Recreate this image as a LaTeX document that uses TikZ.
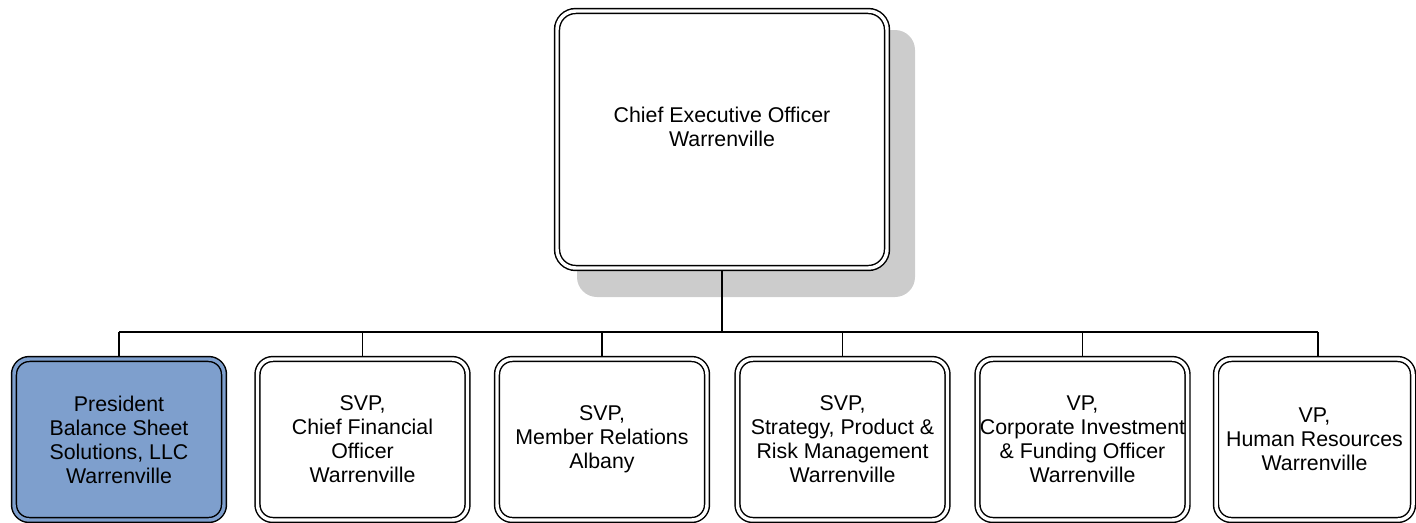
\documentclass[tikz,border=0pt]{standalone}
\usepackage{fontspec}
\setmainfont{Liberation Sans}
\usetikzlibrary{backgrounds}
\definecolor{bluefill}{RGB}{126,159,205}
\definecolor{shadowgray}{RGB}{204,204,204}
\begin{document}
\begin{tikzpicture}[x=0.75pt,y=-0.75pt,
  orgbox/.style={draw=black, line width=1.1pt, double=white, double distance=2.6pt,
    rounded corners=11.5pt, fill=white, minimum width=157.5pt, minimum height=120.75pt,
    inner sep=0pt, outer sep=0pt, align=center, font=\fontsize{16}{18}\selectfont},
  boxtext/.style={align=center, inner sep=0pt, font=\fontsize{16}{18}\selectfont},
  conn/.style={draw=black, line width=1.2pt}]
\useasboundingbox (0,0) rectangle (1416,522);
% top box
\node[orgbox, minimum width=247.5pt, minimum height=192.75pt, rounded corners=14pt] (ceo) at (722,139.5) {};
\node[boxtext] (ceotext) at (722,127) {Chief Executive Officer\\Warrenville};
% bottom boxes
\node[orgbox, double=bluefill, fill=bluefill] (b1) at (119,439.5) {President\\Balance Sheet\\Solutions, LLC\\Warrenville};
\node[orgbox] (b2) at (362.5,439.5) {SVP,\\Chief Financial\\Officer\\Warrenville};
\node[orgbox] (b3) at (602,439.5) {SVP,\\Member Relations\\Albany};
\node[orgbox] (b4) at (842.5,439.5) {SVP,\\Strategy, Product \&\\Risk Management\\Warrenville};
\node[orgbox] (b5) at (1082.5,439.5) {VP,\\Corporate Investment\\\& Funding Officer\\Warrenville};
\node[orgbox, minimum width=147.75pt] (b6) at (1314.5,439.5) {VP,\\Human Resources\\Warrenville};
\coordinate (bus) at (722,332);
\coordinate (d6) at (1318,332);
\begin{pgfonlayer}{background}
  \fill[shadowgray, rounded corners=15pt] (577,30) rectangle (915,297);
  \draw[conn] (ceo.south) -- (bus);
  \draw[conn] (b1.north |- bus) -- (d6);
  \foreach \bx in {b1,b2,b3,b4,b5} \draw[conn] (\bx.north |- bus) -- (\bx.north);
  \draw[conn] (d6) -- (d6 |- b6.north);
\end{pgfonlayer}
\end{tikzpicture}
\end{document}
